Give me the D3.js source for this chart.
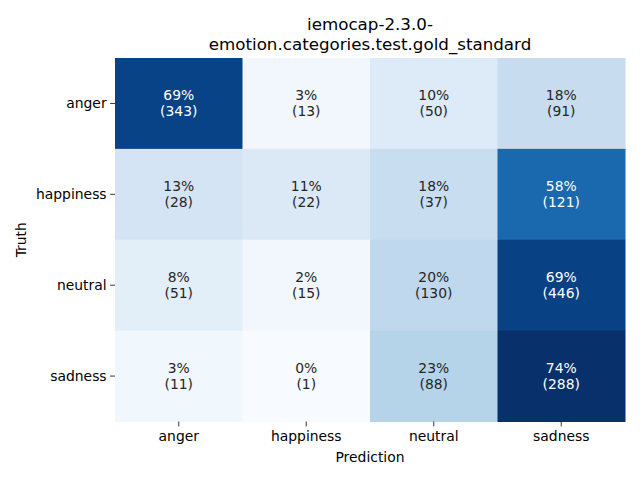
<!DOCTYPE html>
<html><head><meta charset="utf-8">
<script src="https://cdn.jsdelivr.net/npm/d3@7"></script>
<style>body{margin:0;background:#fff}svg{font-family:"DejaVu Sans",sans-serif}</style>
</head><body><svg id="c" width="640" height="480"></svg>
<script>
const truthLabels = ["anger", "happiness", "neutral", "sadness"];
const predLabels = ["anger", "happiness", "neutral", "sadness"];
const counts = [
  [343, 13, 50, 91],
  [28, 22, 37, 121],
  [51, 15, 130, 446],
  [11, 1, 88, 288]
];
const pctLabels = [
  ["69%", "3%", "10%", "18%"],
  ["13%", "11%", "18%", "58%"],
  ["8%", "2%", "20%", "69%"],
  ["3%", "0%", "23%", "74%"]
];
const titleLines = ["iemocap-2.3.0-", "emotion.categories.test.gold_standard"];

const svg = d3.select("#c");
const L = 115, R = 625, T = 58, B = 421.5;
const x = d3.scaleBand().domain(predLabels).range([L, R]);
const y = d3.scaleBand().domain(truthLabels).range([T, B]);

const fracs = counts.map(r => { const s = d3.sum(r); return r.map(v => v / s); });
const vmax = d3.max(fracs.flat()), vmin = d3.min(fracs.flat());
const blues = ["#f7fbff","#deebf7","#c6dbef","#9ecae1","#6baed6","#4292c6","#2171b5","#08519c","#08306b"];
const color = d3.scaleLinear().domain(blues.map((_, i) => vmin + (vmax - vmin) * i / 8)).range(blues).interpolate(d3.interpolateRgb);

const cells = [];
truthLabels.forEach((t, i) => predLabels.forEach((p, j) => cells.push({t, p, i, j, f: fracs[i][j], c: counts[i][j], pl: pctLabels[i][j]})));

function lum(col) {
  const c = d3.rgb(col);
  const f = v => { v /= 255; return v <= 0.03928 ? v / 12.92 : Math.pow((v + 0.055) / 1.055, 2.4); };
  return 0.2126 * f(c.r) + 0.7152 * f(c.g) + 0.0722 * f(c.b);
}

svg.selectAll("rect.cell").data(cells).join("rect")
  .attr("x", d => x(d.p)).attr("y", d => y(d.t))
  .attr("width", x.bandwidth() + 0.5).attr("height", y.bandwidth() + 0.5)
  .attr("fill", d => color(d.f));

const tg = svg.selectAll("text.cell").data(cells).join("text")
  .attr("text-anchor", "middle").attr("font-size", "13.9px")
  .attr("fill", d => lum(color(d.f)) < 0.408 ? "#ffffff" : "#262626");
tg.append("tspan").attr("x", d => x(d.p) + x.bandwidth() / 2).attr("y", d => y(d.t) + y.bandwidth() / 2 - 3).text(d => d.pl);
tg.append("tspan").attr("x", d => x(d.p) + x.bandwidth() / 2).attr("y", d => y(d.t) + y.bandwidth() / 2 + 13).text(d => "(" + d.c + ")");

const xa = svg.append("g").attr("transform", `translate(0,${B})`).call(d3.axisBottom(x).tickSize(4.9).tickPadding(5));
const ya = svg.append("g").attr("transform", `translate(${L},0)`).call(d3.axisLeft(y).tickSize(4.9).tickPadding(3.5));
[xa, ya].forEach(a => {
  a.select(".domain").remove();
  a.selectAll("line").attr("stroke", "#000").attr("stroke-width", 0.8);
  a.selectAll("text").attr("font-size", "13.9px").attr("fill", "#000").attr("font-family", "DejaVu Sans");
});

svg.append("text").attr("x", (L + R) / 2).attr("y", 462).attr("text-anchor", "middle").attr("font-size", "13.9px").text("Prediction");
svg.append("text").attr("transform", `translate(26,${(T + B) / 2}) rotate(-90)`).attr("text-anchor", "middle").attr("font-size", "13.9px").text("Truth");
svg.selectAll("text.title").data(titleLines).join("text")
  .attr("x", (L + R) / 2).attr("y", (d, i) => 30 + i * 20).attr("text-anchor", "middle").attr("font-size", "16.7px").text(d => d);
</script></body></html>
